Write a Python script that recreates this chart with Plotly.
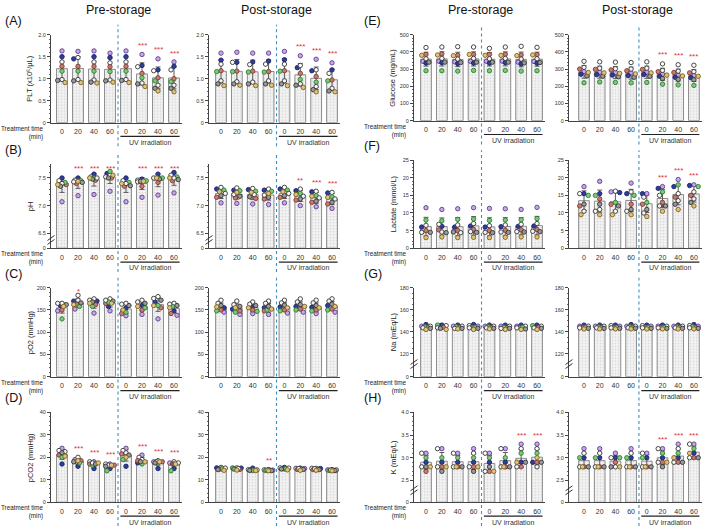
import numpy as np
import plotly.graph_objects as go

# ---------------- data ----------------
categories = ["0", "20", "40", "60", "0", "20", "40", "60"]
donor_fill = ["#c9a8e8", "#2f3d9c", "#ffffff", "#c97a72", "#7acb78", "#f4f4f4", "#9a9a9a", "#e0c47c"]
donor_line = ["#5a3d8a", "#1b2466", "#333333", "#7a3a33", "#2f7a2f", "#333333", "#333333", "#7a6020"]

# each panel: 8 bars (0,20,40,60, UV 0,20,40,60) x 8 donors
A_pre = [[1.63,1.50,1.38,1.28,1.17,0.98,0.96,0.91],[1.62,1.45,1.48,1.28,1.17,0.98,0.95,0.91],
         [1.63,1.50,1.38,1.28,1.17,0.97,0.92,0.90],[1.58,1.48,1.36,1.27,1.16,0.97,0.95,0.92],
         [1.63,1.50,1.38,1.28,1.17,0.98,0.96,0.91],[1.55,1.30,1.27,1.12,1.02,0.90,0.88,0.82],
         [1.45,1.20,1.18,1.02,0.95,0.85,0.78,0.72],[1.38,1.28,1.20,1.00,0.93,0.85,0.78,0.70]]
A_post = [[1.58,1.42,1.33,1.18,1.16,0.95,0.88,0.84],[1.60,1.37,1.37,1.17,1.16,0.93,0.88,0.85],
          [1.58,1.38,1.32,1.17,1.15,0.92,0.88,0.84],[1.58,1.40,1.33,1.16,1.15,0.95,0.88,0.85],
          [1.62,1.43,1.33,1.18,1.17,0.95,0.88,0.84],[1.52,1.25,1.30,1.12,0.98,0.88,0.85,0.80],
          [1.44,1.18,1.20,1.05,0.92,0.82,0.75,0.70],[1.36,1.20,1.12,0.97,0.95,0.78,0.72,0.70]]
B_pre = [[7.07,7.50,7.45,7.38,7.42,7.40,7.35,7.38],[7.18,7.50,7.46,7.40,7.45,7.43,7.42,7.44],
         [7.20,7.57,7.52,7.46,7.50,7.50,7.48,7.50],[7.26,7.58,7.55,7.50,7.62,7.52,7.50,7.55],
         [7.07,7.50,7.45,7.35,7.42,7.40,7.36,7.40],[7.15,7.48,7.46,7.35,7.45,7.43,7.44,7.44],
         [7.19,7.57,7.50,7.42,7.50,7.50,7.48,7.50],[7.23,7.60,7.55,7.45,7.52,7.50,7.47,7.50]]
B_post = [[7.05,7.30,7.33,7.15,7.28,7.22,7.18,7.25],[7.04,7.28,7.32,7.14,7.27,7.20,7.17,7.24],
          [7.03,7.29,7.31,7.13,7.26,7.20,7.16,7.24],[7.02,7.28,7.30,7.12,7.26,7.19,7.15,7.22],
          [7.05,7.30,7.33,7.15,7.28,7.22,7.18,7.25],[7.00,7.27,7.30,7.10,7.22,7.17,7.12,7.20],
          [6.98,7.25,7.26,7.06,7.18,7.14,7.08,7.17],[6.95,7.23,7.24,7.03,7.16,7.12,7.06,7.15]]
C_pre = [[148,160,165,150,130,165,162,158],[152,170,183,163,158,172,166,162],
         [143,170,175,162,158,172,168,165],[148,158,175,165,168,172,170,165],
         [137,155,165,142,145,163,160,150],[140,160,172,150,155,168,165,158],
         [130,168,180,155,160,176,172,160],[138,148,165,142,158,163,160,155]]
C_post = [[145,155,172,150,148,165,160,157],[140,152,170,148,145,162,158,155],
          [142,158,168,150,147,163,160,155],[140,155,170,148,150,165,158,152],
          [143,157,172,150,148,166,161,155],[145,158,175,152,150,168,162,158],
          [142,156,172,150,148,166,160,155],[145,160,175,152,150,170,163,158]]
D_pre = [[24,17,23,21,20,22.5,22,20.5],[19,16,20,18.5,17.5,18,18,18.5],
         [18,15,18,17,16.5,17.5,17,17.5],[17,15,17,16.5,14,16.5,16,16.5],
         [24,16,23,21.5,19,22,21,20],[21,17.5,20,18.5,17,19,18,18],
         [18,15,18.5,18,17.5,18,17.5,18],[17.5,15,18,17,14,17.5,17,17]]
D_post = [[15,15.3,15.5,14.8,15,15.2,14.5,14.2],[15,15.2,15.3,14.6,15.3,15,14.8,14.3],
          [14.3,15.2,14.5,14.3,14.2,14.4,14.2,14.1],[14.3,14.5,14.4,14.2,14.2,14.3,14.1,14.0],
          [15,15.5,15.3,14.8,15,15.2,14.8,14.4],[15,15.2,15.1,14.6,14.8,15,14.6,14.2],
          [15.1,15,15.1,14.5,14.8,14.9,14.5,14.2],[14.4,14.5,14.4,14.2,14.2,14.3,14.1,14.0]]
E_pre = [[345,335,425,385,290,360,340,380],[345,338,428,388,290,362,340,382],
         [342,332,430,380,288,358,338,378],[345,335,428,385,292,362,340,385],
         [345,335,420,385,290,360,340,380],[346,338,428,386,292,362,340,380],
         [340,330,432,382,288,358,336,378],[344,334,426,384,290,360,338,382]]
E_post = [[285,270,345,300,220,310,260,280],[282,268,342,298,225,305,258,278],
          [280,265,340,295,222,302,255,275],[278,262,338,290,220,300,252,272],
          [282,268,342,298,222,305,258,278],[270,258,330,285,212,292,245,265],
          [265,252,325,280,208,288,240,260],[262,250,322,278,205,285,238,258]]
F_pre = [[11.5,6.0,6.5,5.0,8.0,4.5,4.5,3.0],[11.0,6.2,6.8,5.2,7.8,4.6,4.4,3.2],
         [11.2,6.0,6.6,5.0,8.2,4.4,4.6,3.0],[11.5,6.3,7.0,5.3,8.3,4.7,4.5,3.1],
         [11.3,6.0,6.4,5.0,7.9,4.5,4.4,3.0],[11.2,6.1,6.6,5.1,8.0,4.6,4.5,3.1],
         [11.0,6.2,6.8,5.2,8.1,4.7,4.6,3.2],[11.6,6.3,7.0,5.3,8.4,4.8,4.7,3.2]]
F_post = [[17.5,15.5,15.5,12.0,15.0,10.5,12.5,9.5],[19.0,15.5,11.0,14.0,15.0,10.5,12.5,9.5],
          [16.0,15.8,16.2,12.5,13.0,10.5,12.0,9.5],[18.5,15.5,16.0,12.5,15.0,10.5,11.0,9.5],
          [15.5,15.5,14.5,12.5,13.0,10.0,11.0,9.0],[17.5,17.0,15.0,13.0,16.0,12.0,12.0,10.5],
          [19.5,17.5,15.5,14.5,18.0,13.5,12.5,11.0],[18.0,17.8,16.0,15.0,17.5,14.0,13.0,12.0]]
G_pre = [[145,146.5,145,144,144.5,143.5,143,142],[145.5,146,145.5,144,146,143.5,143,142],
         [145,146,145,144,144.5,143,143,142.5],[145,146.5,145.5,144,144,143.5,143,142],
         [145,146,145,144,144.5,143.5,143,142.5],[145,146,145,143.5,144,143,143,142],
         [145,146,145,144,144,143.5,142.5,142],[145,146,145,144,145.5,143.5,143,142]]
G_post = [[145,146,145,144,144,143.5,143,142.5],[145,146,145,144,144.5,143.5,143,142.5],
          [145,146,145.5,144,144,143.5,143,142.5],[145,146.5,145,144,144.5,143.5,143,142.5],
          [145,146,145.5,144,144,143.5,143,142.5],[145,146,145,144,144,143.5,143,142.5],
          [145,146,145,144,144.5,143.5,143,142.5],[145,146.5,145.5,144,144.5,143.5,143,142.5]]
H_pre = [[3.1,2.9,3.1,2.7,3.0,2.8,2.8,2.8],[3.2,2.9,3.2,2.8,3.0,2.8,2.7,2.8],
         [3.1,2.9,3.1,2.8,3.0,2.8,2.8,2.8],[3.2,2.9,3.1,2.8,3.0,2.8,2.7,2.8],
         [3.1,2.9,3.1,2.7,3.0,2.7,2.8,2.7],[3.2,2.9,3.2,2.8,3.0,2.8,2.8,2.8],
         [3.3,2.9,3.2,2.8,3.1,2.8,2.9,2.9],[3.3,2.9,3.2,2.9,3.1,2.8,2.9,3.0]]
H_post = [[3.2,3.0,3.1,2.8,3.0,2.8,2.8,2.8],[3.2,3.0,3.1,2.8,3.0,2.8,2.8,2.8],
          [3.1,3.0,3.0,2.9,3.0,2.8,2.8,2.8],[3.2,3.0,3.1,2.8,3.0,2.8,2.8,2.8],
          [3.1,3.0,3.1,2.8,3.0,2.8,2.8,2.8],[3.2,3.0,3.2,2.9,3.1,2.9,2.8,2.9],
          [3.3,3.0,3.2,2.9,3.1,2.9,2.9,3.0],[3.3,3.1,3.3,3.0,3.2,3.0,3.0,3.1]]

# significance marks per bar
S_none = ["", "", "", "", "", "", "", ""]
S_uv3 = ["", "", "", "", "", "***", "***", "***"]
S_all6 = ["", "***", "***", "***", "", "***", "***", "***"]
S_B_post = ["", "", "", "", "", "**", "***", "***"]
S_C_pre = ["", "*", "", "", "", "", "", ""]
S_D_post = ["", "", "", "**", "", "", "", ""]
S_H_pre = ["", "", "", "", "", "", "***", "***"]

y_titles = {"A": "PLT (x10⁶/μL)", "B": "pH", "C": "pO2 (mmHg)", "D": "pCO2 (mmHg)",
            "E": "Glucose (mg/mL)", "F": "Lactate (mmol/L)", "G": "Na (mEq/L)", "H": "K (mEq/L)"}

# ---------------- axis specs (style / scale) ----------------
specs = {
    "A": dict(lo=None, top=2.0, ticks=[0, 0.5, 1.0, 1.5, 2.0], labels=["0", "0.5", "1.0", "1.5", "2.0"], minor=0.1),
    "B": dict(lo=6.5, gap=0.27, top=7.75, ticks=[0, 6.5, 7.0, 7.5], labels=["0", "6.5", "7.0", "7.5"], minor=0.1),
    "C": dict(lo=None, top=200, ticks=[0, 50, 100, 150, 200], labels=["0", "50", "100", "150", "200"], minor=10),
    "D": dict(lo=None, top=40, ticks=[0, 10, 20, 30, 40], labels=["0", "10", "20", "30", "40"], minor=2),
    "E": dict(lo=None, top=500, ticks=[0, 100, 200, 300, 400, 500], labels=["0", "100", "200", "300", "400", "500"], minor=20),
    "F": dict(lo=None, top=25, ticks=[0, 5, 10, 15, 20, 25], labels=["0", "5", "10", "15", "20", "25"], minor=1),
    "G": dict(lo=120, gap=21, top=180, ticks=[0, 120, 140, 160, 180], labels=["0", "120", "140", "160", "180"], minor=5),
    "H": dict(lo=2.5, gap=0.48, top=4.0, ticks=[0, 2.5, 3.0, 3.5, 4.0], labels=["0", "2.5", "3.0", "3.5", "4.0"], minor=0.1),
}

def tf(v, sp):
    v = np.asarray(v, dtype=float)
    if sp["lo"] is None:
        return v
    return np.where(v <= 0, 0.0, v - sp["lo"] + sp["gap"])

# layout geometry in pixels
W, H = 709, 529
cols = [dict(x0=51, bar0=62, s=16.0), dict(x0=209, bar0=221, s=15.86),
        dict(x0=414, bar0=426, s=15.86), dict(x0=569, bar0=584, s=15.7)]
rows_left = [(32, 121), (163, 248), (288, 378), (414, 505)]
rows_right = [(32, 119), (159, 248), (288, 378), (414, 505)]

panels = [
    ("A", A_pre, S_uv3, 0, 0), ("A", A_post, S_uv3, 1, 0),
    ("B", B_pre, S_all6, 0, 1), ("B", B_post, S_B_post, 1, 1),
    ("C", C_pre, S_C_pre, 0, 2), ("C", C_post, S_none, 1, 2),
    ("D", D_pre, S_all6, 0, 3), ("D", D_post, S_D_post, 1, 3),
    ("E", E_pre, S_none, 2, 0), ("E", E_post, S_uv3, 3, 0),
    ("F", F_pre, S_none, 2, 1), ("F", F_post, S_uv3, 3, 1),
    ("G", G_pre, S_none, 2, 2), ("G", G_post, S_none, 3, 2),
    ("H", H_pre, S_H_pre, 2, 3), ("H", H_post, S_uv3, 3, 3),
]

def px_x(p):
    return p / W

def px_y(p):
    return 1 - p / H

fig = go.Figure()
layout = dict(width=W, height=H, margin=dict(l=0, r=0, t=0, b=0), paper_bgcolor="white",
              plot_bgcolor="white", showlegend=False)
shapes, annotations = [], []
FONT = "Liberation Sans, Arial, sans-serif"
XEND = 7.5

def swarm(yv_px, dia=3.6):
    order = np.argsort(-np.asarray(yv_px))
    cands = [0, -3.0, 3.0, -1.5, 1.5, -4.3, 4.3]
    placed, offs = [], [0.0] * len(yv_px)
    for i in order:
        y = yv_px[i]
        best, bestd, bc = None, -1, 0
        for c in cands:
            d = min([np.hypot(c - px, y - py) for px, py in placed] or [99])
            if d >= dia:
                best = c
                break
            if d > bestd:
                bestd, bc = d, c
        if best is None:
            best = bc
        placed.append((best, y))
        offs[i] = best
    return offs

for k, (key, data, stars, ci, ri) in enumerate(panels):
    n = k + 1
    xa = "xaxis" if n == 1 else f"xaxis{n}"
    ya = "yaxis" if n == 1 else f"yaxis{n}"
    xr = "x" if n == 1 else f"x{n}"
    yr = "y" if n == 1 else f"y{n}"
    sp = specs[key]
    col = cols[ci]
    xstart = -(col["bar0"] - col["x0"]) / col["s"]
    x1px = col["bar0"] + XEND * col["s"]
    top_px, bot_px = (rows_left if ci < 2 else rows_right)[ri]
    ytop = float(tf(sp["top"], sp))
    ypx_per = (bot_px - top_px) / ytop

    arr = np.array(data, dtype=float)
    means = arr.mean(axis=1)
    sds = arr.std(axis=1, ddof=1)
    xs = np.arange(8)

    fig.add_trace(go.Bar(
        x=xs, y=tf(means, sp), xaxis=xr, yaxis=yr, width=0.68,
        marker=dict(color="#f1f1f1", line=dict(color="#8c8c8c", width=1),
                    pattern=dict(shape=".", fgcolor="#b5b5b5", bgcolor="#f3f3f3", size=3, solidity=0.25)),
        error_y=dict(type="data", array=sds, color="#5a5a5a", thickness=1, width=2.5),
        hoverinfo="skip"))

    for b in range(8):
        vals_t = tf(arr[b], sp)
        offs = swarm(list(vals_t * ypx_per))
        fig.add_trace(go.Scatter(
            x=[b + o / col["s"] for o in offs], y=vals_t, xaxis=xr, yaxis=yr, mode="markers",
            marker=dict(size=4.4, color=donor_fill, line=dict(color=donor_line, width=0.9)),
            hoverinfo="skip"))
        if stars[b]:
            top_val = max(float(vals_t.max()), float(tf(means[b], sp) + sds[b]))
            sy = bot_px - top_val * ypx_per - 9
            sy = max(sy, top_px + 4)
            annotations.append(dict(x=b, y=px_y(sy), xref=xr, yref="paper", text=stars[b],
                                    showarrow=False, font=dict(size=8, color="#e0303a", family=FONT),
                                    xanchor="center", yanchor="middle"))

    tick_t = [float(tf(t, sp)) for t in sp["ticks"]]
    lo = sp["lo"] if sp["lo"] is not None else 0
    mvals = np.arange(lo, sp["top"] + 1e-9, sp["minor"])
    minor_t = [float(tf(m, sp)) for m in mvals if m > 0]

    layout[xa] = dict(domain=[px_x(col["x0"]), px_x(x1px)], range=[xstart, XEND], anchor=yr,
                      showline=True, linecolor="#444", linewidth=1, showgrid=False, zeroline=False,
                      tickvals=list(xs), ticktext=categories, ticks="", ticklabelstandoff=2,
                      tickfont=dict(size=7, color="#333", family=FONT), fixedrange=True)
    layout[ya] = dict(domain=[px_y(bot_px), px_y(top_px)], range=[0, ytop], anchor=xr,
                      showline=True, linecolor="#444", linewidth=1, showgrid=False, zeroline=False,
                      tickvals=tick_t, ticktext=sp["labels"], ticks="outside", ticklen=3,
                      tickcolor="#444", tickfont=dict(size=5.5, color="#333", family=FONT),
                      minor=dict(tickvals=minor_t, ticks="outside", ticklen=1.5, tickcolor="#666"),
                      fixedrange=True)

    # axis break marks
    if sp["lo"] is not None:
        ym = bot_px - sp["gap"] * 0.55 * ypx_per
        for dy in (-2.0, 2.0):
            shapes.append(dict(type="line", xref="paper", yref="paper",
                               x0=px_x(col["x0"] - 3.5), x1=px_x(col["x0"] + 3.5),
                               y0=px_y(ym + dy + 2.5), y1=px_y(ym + dy - 2.5),
                               line=dict(color="#333", width=1)))

    # dashed separator
    shapes.append(dict(type="line", xref=xr, yref="paper", x0=3.5, x1=3.5,
                       y0=px_y(bot_px + 24), y1=px_y(top_px - 10),
                       line=dict(color="#3d8fc4", width=1.1, dash="dot")))
    # UV irradiation underline + label
    shapes.append(dict(type="line", xref=xr, yref="paper", x0=3.65, x1=7.35,
                       y0=px_y(bot_px + 14), y1=px_y(bot_px + 14), line=dict(color="#222", width=1.2)))
    annotations.append(dict(x=5.5, y=px_y(bot_px + 20), xref=xr, yref="paper", text="UV irradiation",
                            showarrow=False, font=dict(size=7, color="#333", family=FONT),
                            xanchor="center", yanchor="middle"))

    if ci in (0, 2):
        # y title
        annotations.append(dict(x=px_x(30 if ci == 0 else 393), y=px_y((top_px + bot_px) / 2), xref="paper",
                                yref="paper", text=y_titles[key], textangle=-90, showarrow=False,
                                xanchor="center", yanchor="middle",
                                font=dict(size=7.5, color="#222", family=FONT)))
        # treatment time label
        annotations.append(dict(x=px_x(col["x0"] - 5), y=px_y(bot_px + 10), xref="paper", yref="paper",
                                text="Treatment time<br>(min)", showarrow=False, align="right",
                                xanchor="right", yanchor="middle",
                                font=dict(size=6.3, color="#222", family=FONT)))
        # panel letter
        lx = 3 if ci == 0 else 362
        annotations.append(dict(x=px_x(lx), y=px_y(top_px - 14), xref="paper", yref="paper",
                                text=f"({key})", showarrow=False, xanchor="left", yanchor="middle",
                                font=dict(size=12.5, color="#111", family=FONT)))

for txt, cx in [("Pre-storage", 118), ("Post-storage", 276), ("Pre-storage", 481), ("Post-storage", 637)]:
    annotations.append(dict(x=px_x(cx), y=px_y(7), xref="paper", yref="paper", text=txt, showarrow=False,
                            xanchor="center", yanchor="middle",
                            font=dict(size=12.5, color="#111", family=FONT)))

layout["shapes"] = shapes
layout["annotations"] = annotations
fig.update_layout(**layout)
fig.write_html("out.html")
